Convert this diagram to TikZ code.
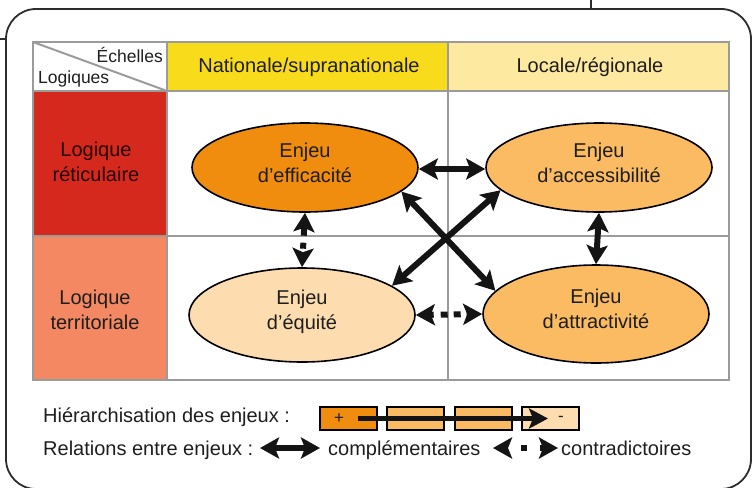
\documentclass[tikz,border=0pt]{standalone}
\usepackage{fontspec}
\setmainfont{Liberation Sans}
\usetikzlibrary{arrows.meta,shapes.geometric}
\definecolor{cyellow}{RGB}{248,220,28}
\definecolor{clyellow}{RGB}{253,233,160}
\definecolor{cred}{RGB}{214,41,29}
\definecolor{csalmon}{RGB}{244,136,98}
\definecolor{corange}{RGB}{240,140,14}
\definecolor{clorange}{RGB}{251,187,98}
\definecolor{cpale}{RGB}{253,221,176}
\definecolor{cgrid}{RGB}{155,155,155}
\definecolor{cframe}{RGB}{45,45,45}
\definecolor{ctext}{RGB}{30,30,30}
\definecolor{carrow}{RGB}{20,20,20}
\tikzset{
  txt/.style={font=\fontsize{20}{25}\selectfont, text=ctext, inner sep=0pt, align=center},
  smalltxt/.style={font=\fontsize{17.5}{20}\selectfont, text=ctext, inner sep=0pt},
  enjeu/.style={ellipse, draw=black, line width=1.6pt, minimum width=226pt, minimum height=89pt, inner sep=0pt, align=center, font=\fontsize{20}{25}\selectfont, text=ctext},
  bigtip/.tip={Stealth[length=19pt,width=21pt,inset=4pt]},
  bigarrow/.style={draw=carrow, line width=6pt, bigtip-bigtip},
  legbox/.style={draw=black, line width=2pt, minimum width=57pt, minimum height=23pt, inner sep=0pt},
  gridline/.style={draw=cgrid, line width=2.5pt},
}
\begin{document}
\begin{tikzpicture}[x=1pt,y=-1pt]
\useasboundingbox (0,0) rectangle (754,487);
% outer frame
\draw[cframe, line width=1.8pt, rounded corners=30pt] (6,9) rectangle (751,489);
\draw[cframe, line width=1.2pt] (0,39) -- (7,39);
\draw[cframe, line width=1.2pt] (591,0) -- (591,9);
% table fills
\fill[cyellow] (167,42) rectangle (448,91);
\fill[clyellow] (448,42) rectangle (729,91);
\fill[cred] (33,91) rectangle (167,236);
\fill[csalmon] (33,236) rectangle (167,380);
% grid
\draw[gridline] (33,42) rectangle (729,380);
\draw[gridline] (167,42) -- (167,380);
\draw[gridline] (448,42) -- (448,380);
\draw[gridline] (33,91) -- (729,91);
\draw[gridline] (33,236) -- (729,236);
\draw[draw=cgrid, line width=2pt] (33,42) -- (167,91);
% headers
\node[smalltxt, anchor=base east] (hech) at (163,63) {Échelles};
\node[smalltxt, anchor=base west] (hlog) at (38,83) {Logiques};
\node[txt] (hnat) at (309,67) {Nationale/supranationale};
\node[txt] (hloc) at (590,67) {Locale/régionale};
\node[txt, text=black!85!red] (lret) at (96,162) {Logique\\réticulaire};
\node[txt] (lter) at (95,310) {Logique\\territoriale};
% enjeux
\node[enjeu, fill=corange] (eff) at (305,167.5) {Enjeu\\d'efficacité\rule[-10pt]{0pt}{10pt}};
\node[enjeu, fill=clorange] (acc) at (599,167.5) {Enjeu\\d’accessibilité\rule[-10pt]{0pt}{10pt}};
\node[enjeu, fill=cpale, minimum height=94pt] (equ) at (302,315) {Enjeu\\d'équité\rule[-10pt]{0pt}{10pt}};
\node[enjeu, fill=clorange, minimum height=98pt] (att) at (596,314) {Enjeu\\d’attractivité\rule[-10pt]{0pt}{10pt}};
% relations
\draw[bigarrow] ([yshift=-1.5pt]eff.east) -- ([yshift=-1.5pt]acc.west);
\draw[bigarrow] (acc.south) -- (att.north);
\draw[bigarrow] (eff.-14) -- (att.167);
\draw[bigarrow] (acc.-167) -- (equ.18);
\draw[bigarrow, dash pattern=on 9pt off 7pt on 6pt off 7pt on 40pt off 1pt] (eff.south) -- (equ.north);
\draw[bigarrow, dash pattern=on 4pt off 7pt on 7pt off 6pt on 7pt off 6pt on 40pt off 1pt] (equ.east) -- (att.west);
% legend
\node[txt, anchor=base west] (lh) at (43,422) {Hiérarchisation des enjeux :};
\node[legbox, fill=corange] (b1) at (348.5,418.5) {};
\node[legbox, fill=clorange] (b2) at (415.5,418.5) {};
\node[legbox, fill=clorange] (b3) at (483,418.5) {};
\node[legbox, fill=cpale] (b4) at (550,418.5) {};
\node[font=\fontsize{17}{18}\selectfont, text=ctext, inner sep=0pt] (plus) at (339,418.5) {+};
\node[font=\fontsize{17}{18}\selectfont, text=ctext, inner sep=0pt] (minus) at (561,418.5) {-};
\draw[draw=carrow, line width=5pt, -{Stealth[length=19pt,width=20pt,inset=4pt]}] ([xshift=9.5pt]b1.center) -- ([xshift=-2pt]b4.center);
\node[txt, anchor=base west] (lr) at (43,455) {Relations entre enjeux :};
\coordinate (ca1) at (260,448);
\coordinate (ca2) at (320,448);
\draw[bigarrow] (ca1) -- (ca2);
\node[txt, anchor=base west] (lcomp) at (328,455) {complémentaires};
\coordinate (cd1) at (493,448);
\coordinate (cd2) at (558,448);
\draw[bigarrow, dash pattern=on 1pt off 13pt on 6pt off 13pt on 40pt off 1pt] (cd1) -- (cd2);
\node[txt, anchor=base west] (lcont) at (561,455) {contradictoires};
\end{tikzpicture}
\end{document}
